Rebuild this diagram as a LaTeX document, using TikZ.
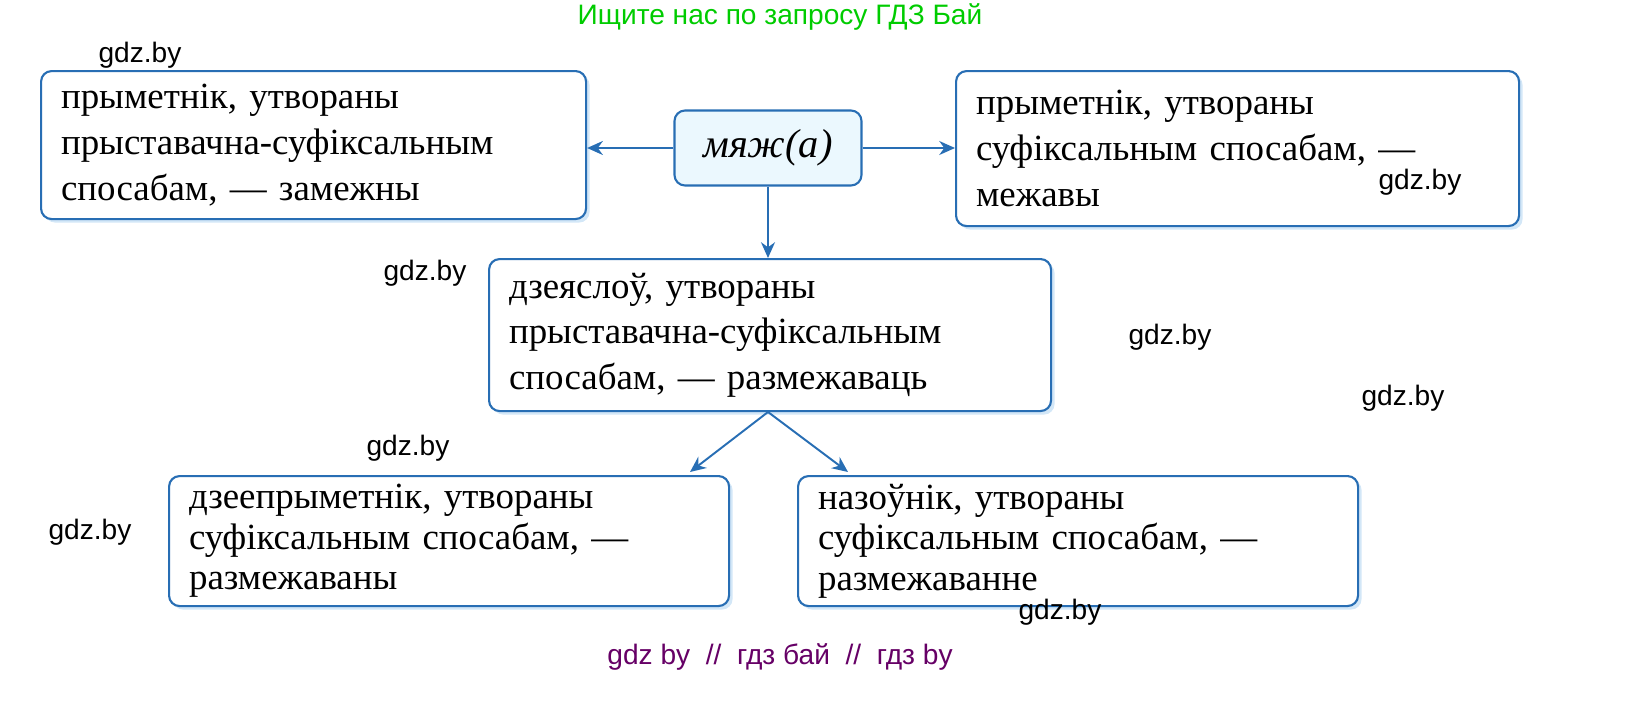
\documentclass[tikz,border=0pt]{standalone}
\usepackage{fontspec}
\setmainfont{Liberation Serif}
\newfontfamily\wmfont{Liberation Sans}
\usetikzlibrary{positioning,arrows.meta,shadows}
\definecolor{boxblue}{RGB}{40,110,180}
\definecolor{glow}{RGB}{200,225,245}
\tikzset{
  wbox/.style={draw=boxblue,line width=1.2pt,rounded corners=6pt,fill=white,
    anchor=north west,align=left,inner xsep=0.4cm,inner ysep=0pt,
    drop shadow={shadow xshift=2pt,shadow yshift=-2pt,fill=glow,opacity=.8},
    font=\fontsize{21}{26}\selectfont},
  tight/.style={font=\fontsize{21}{23}\selectfont},
  link/.style={draw=boxblue,line width=1.1pt,-{Stealth[length=9pt,width=8pt]}},
  wm/.style={font=\wmfont\fontsize{16}{18}\selectfont}
}
\begin{document}
\begin{tikzpicture}[x=0.02cm,y=-0.02cm]
\useasboundingbox (0,0) rectangle (1643,707);
\node[font=\wmfont\fontsize{16}{18}\selectfont,text=green!80!black] (title) at (780,17) {Ищите нас по запросу ГДЗ Бай};
% boxes
\node[wbox,minimum width=545*0.02cm,minimum height=148*0.02cm,text width=505*0.02cm] (adjA) at (40,70)
  {прыметнік, утвораны\\ прыставачна-суфіксальным\\ спосабам, — замежны};
\node[wbox,minimum width=563*0.02cm,minimum height=155*0.02cm,text width=523*0.02cm] (adjB) at (955,70)
  {прыметнік, утвораны\\ суфіксальным спосабам, —\\ межавы};
\node[draw=boxblue,line width=1.2pt,rounded corners=6pt,fill=cyan!8,
  minimum width=187*0.02cm,minimum height=75*0.02cm,
  font=\itshape\fontsize{23}{26}\selectfont] (root) at (768,148) {мяж(а)};
\node[wbox,minimum width=562*0.02cm,minimum height=152*0.02cm,text width=522*0.02cm] (verb) at (488,258)
  {дзеяслоў, утвораны\\ прыставачна-суфіксальным\\ спосабам, — размежаваць};
\node[wbox,tight,minimum width=560*0.02cm,minimum height=130*0.02cm,text width=520*0.02cm] (part) at (168,475)
  {дзеепрыметнік, утвораны\\ суфіксальным спосабам, —\\ размежаваны};
\node[wbox,tight,minimum width=560*0.02cm,minimum height=130*0.02cm,text width=520*0.02cm] (noun) at (797,475)
  {назоўнік, утвораны\\ суфіксальным спосабам, —\\ размежаванне};
% arrows
\coordinate (vb) at (768,412);
\draw[link] (root.west) -- (root.west -| adjA.east);
\draw[link] (root.east) -- (root.east -| adjB.west);
\draw[link] (root.south) -- (verb.north -| root.south);
\draw[link] (vb) -- (690,472);
\draw[link] (vb) -- (848,472);
% watermarks
\node[wm] (w1) at (140,55) {gdz.by};
\node[wm] (w2) at (425,273) {gdz.by};
\node[wm] (w3) at (1420,182) {gdz.by};
\node[wm] (w4) at (1170,337) {gdz.by};
\node[wm] (w5) at (1403,398) {gdz.by};
\node[wm] (w6) at (408,448) {gdz.by};
\node[wm] (w7) at (90,532) {gdz.by};
\node[wm] (w8) at (1060,612) {gdz.by};
\node[wm,text=violet!80!black] (foot) at (780,657) {gdz by \ // \ гдз бай \ // \ гдз by};
\end{tikzpicture}
\end{document}
